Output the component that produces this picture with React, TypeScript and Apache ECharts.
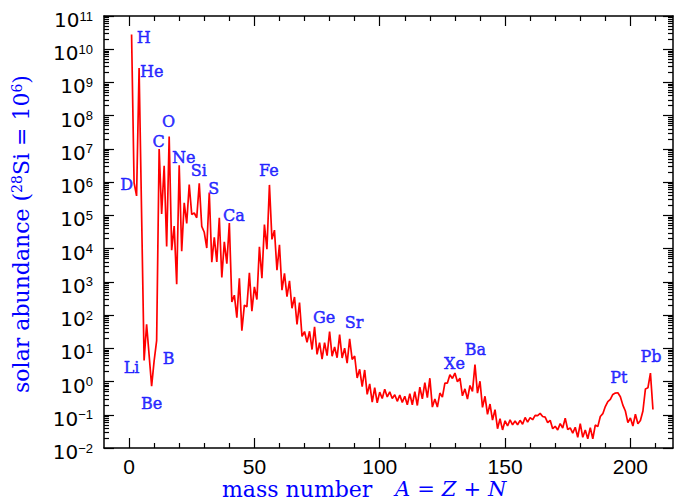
import React, { useEffect, useRef } from 'react';
import * as echarts from 'echarts';

// Solar abundance per mass number A = 1..209 (null where no stable isobar exists)
const abundance: (number | null)[] = [
  2.79e10, 9.5e5, 3.86e5, 2.72e9, null, 4.3, 52.8, null, 0.73, 4.2,
  17, 1.0e7, 1.1e5, 3.12e6, 1.15e4, 2.37e7, 9.0e3, 4.8e4, 843, 3.2e6,
  8.3e3, 2.4e5, 5.74e4, 8.5e5, 1.07e5, 1.18e5, 8.49e4, 9.22e5, 4.67e4, 3.1e4,
  1.04e4, 4.85e5, 3.9e3, 2.2e4, 3.97e3, 8.5e4, 1.35e3, 1.6e4, 3.5e3, 5.9e4,
  250, 396, 83, 1270, 34, 200, 176, 1880, 132, 710,
  293, 1.13e4, 1280, 5.3e4, 9550, 8.26e5, 1.9e4, 3.6e4, 2250, 1.3e4,
  560, 1800, 360, 1070, 161, 351, 52, 236, 22.7, 32,
  15.1, 32.6, 9.2, 44, 6.56, 14.8, 4.7, 14.8, 6.0, 31.9,
  5.8, 10.9, 5.2, 25.8, 5.12, 10.1, 3.6, 19.4, 4.64, 5.87,
  1.28, 2.34, 0.698, 2.23, 0.41, 0.85, 0.24, 0.65, 0.23, 0.48,
  0.31, 0.59, 0.344, 0.49, 0.31, 0.4, 0.254, 0.39, 0.236, 0.36,
  0.2, 0.43, 0.2, 0.5, 0.19, 0.68, 0.3, 0.93, 0.33, 1.26,
  0.17, 0.3, 0.17, 0.45, 0.34, 0.9, 0.9, 1.6, 1.24, 1.8,
  0.99, 1.26, 0.372, 0.6, 0.296, 0.76, 0.505, 3.22, 0.447, 1.02,
  0.167, 0.36, 0.103, 0.21, 0.069, 0.143, 0.038, 0.076, 0.035, 0.066,
  0.046, 0.07, 0.05, 0.065, 0.05, 0.068, 0.052, 0.083, 0.06, 0.082,
  0.071, 0.096, 0.094, 0.11, 0.089, 0.085, 0.058, 0.068, 0.038, 0.045,
  0.035, 0.054, 0.04, 0.079, 0.036, 0.04, 0.028, 0.042, 0.021, 0.054,
  0.021, 0.035, 0.019, 0.041, 0.019, 0.049, 0.044, 0.089, 0.108, 0.177,
  0.25, 0.29, 0.41, 0.45, 0.46, 0.35, 0.195, 0.13, 0.058, 0.08,
  0.046, 0.104, 0.054, 0.067, 0.13, 0.6, 0.65, 1.8, 0.144,
];
const massNumbers = abundance.map((_, i) => i + 1);

const xMajorTicks = [0, 50, 100, 150, 200];
const xMinorTicks = [10, 20, 30, 40, 60, 70, 80, 90, 110, 120, 130, 140, 160, 170, 180, 190, 210];
const yDecades = [-2, -1, 0, 1, 2, 3, 4, 5, 6, 7, 8, 9, 10];
const yMantissas = [2, 3, 4, 5, 6, 7, 8, 9];

const elementNames = ['H', 'He', 'D', 'Li', 'Be', 'B', 'C', 'O', 'Ne', 'Si', 'S', 'Ca', 'Fe', 'Ge', 'Sr', 'Xe', 'Ba', 'Pt', 'Pb'];
const elementLabelA = [5.8, 9.0, -1.0, 1.0, 9.0, 15.8, 11.8, 15.8, 21.8, 27.8, 33.8, 41.8, 55.8, 77.8, 89.8, 129.8, 138.2, 195.4, 208.2];
const elementLabelValue = [2.3e10, 2.2e9, 8.7e5, 2.6, 0.22, 5.1, 1.7e7, 6.5e7, 5.7e6, 2.2e6, 6.6e5, 1.0e5, 2.3e6, 87, 58, 3.4, 8.9, 1.3, 5.5];

const BLUE = '#0000ff';
const SANS = 'Liberation Sans';
const SANS_Y = 'DejaVu Sans';
const SERIF = 'DejaVu Serif';

export default function App() {
  const ref = useRef<HTMLDivElement>(null);
  useEffect(() => {
    if (!ref.current) return;
    const chart = echarts.init(ref.current, undefined, { renderer: 'svg' });
    const points: [number, number][] = [];
    abundance.forEach((v, i) => {
      if (v != null) points.push([massNumbers[i], v]);
    });
    const yMinor: number[] = [];
    yDecades.forEach((e) => yMantissas.forEach((m) => yMinor.push(e + Math.log10(m))));
    const lineStyle = { color: '#000', width: 1.5 };
    const tickStyle = { color: '#000', width: 1.2 };
    const xBase: any = { type: 'value', min: -10, max: 217, splitLine: { show: false } };
    const yBase: any = { type: 'value', min: -2, max: 11, splitLine: { show: false } };
    const supLabel = (v: number) => {
      const e = Math.round(v);
      return `{b|10}{s|${e < 0 ? '\u2212' + -e : e}}`;
    };
    const blueTok = { fill: BLUE, color: BLUE };
    chart.setOption({
      animation: false,
      grid: { left: 104, right: 5, top: 16, bottom: 54 },
      xAxis: [
        {
          ...xBase, position: 'bottom',
          axisLine: { show: true, onZero: false, lineStyle },
          axisTick: { show: true, inside: true, length: 10, customValues: xMajorTicks, lineStyle: tickStyle },
          axisLabel: { show: true, customValues: xMajorTicks, margin: 8, fontFamily: SANS, fontSize: 21, color: '#000' },
        },
        {
          ...xBase, position: 'bottom',
          axisLine: { show: false, onZero: false },
          axisTick: { show: true, inside: true, length: 5, customValues: xMinorTicks, lineStyle: tickStyle },
          axisLabel: { show: false },
        },
        {
          ...xBase, position: 'top',
          axisLine: { show: true, onZero: false, lineStyle },
          axisTick: { show: true, inside: true, length: 10, customValues: xMajorTicks, lineStyle: tickStyle },
          axisLabel: { show: false },
        },
        {
          ...xBase, position: 'top',
          axisLine: { show: false, onZero: false },
          axisTick: { show: true, inside: true, length: 5, customValues: xMinorTicks, lineStyle: tickStyle },
          axisLabel: { show: false },
        },
      ],
      yAxis: [
        { type: 'log', logBase: 10, min: 0.01, max: 1e11, position: 'left', show: false },
        {
          ...yBase, interval: 1, position: 'left',
          axisLine: { show: true, onZero: false, lineStyle },
          axisTick: { show: true, inside: true, length: 10, lineStyle: tickStyle },
          axisLabel: {
            show: true, margin: 11, formatter: supLabel,
            rich: {
              b: { fontFamily: SANS_Y, fontSize: 20, lineHeight: 20, verticalAlign: 'bottom', color: '#000' },
              s: { fontFamily: SANS, fontSize: 13, lineHeight: 28, verticalAlign: 'middle', color: '#000' },
            },
          },
        },
        {
          ...yBase, position: 'left',
          axisLine: { show: false, onZero: false },
          axisTick: { show: true, inside: true, length: 5, customValues: yMinor, lineStyle: tickStyle },
          axisLabel: { show: false },
        },
        {
          ...yBase, interval: 1, position: 'right',
          axisLine: { show: true, onZero: false, lineStyle },
          axisTick: { show: true, inside: true, length: 10, lineStyle: tickStyle },
          axisLabel: { show: false },
        },
        {
          ...yBase, position: 'right',
          axisLine: { show: false, onZero: false },
          axisTick: { show: true, inside: true, length: 5, customValues: yMinor, lineStyle: tickStyle },
          axisLabel: { show: false },
        },
      ],
      series: [
        {
          type: 'line', xAxisIndex: 0, yAxisIndex: 0, data: points,
          symbol: 'none', showSymbol: false, silent: true, z: 3,
          lineStyle: { color: '#ff0000', width: 1.7 },
        },
        {
          type: 'scatter', xAxisIndex: 0, yAxisIndex: 0, symbolSize: 1, silent: true, z: 4,
          itemStyle: { color: 'transparent' },
          data: elementNames.map((n, i) => ({ name: n, value: [elementLabelA[i], elementLabelValue[i]] })),
          label: {
            show: true, position: 'inside', formatter: '{b}', color: BLUE, fontFamily: SERIF, fontSize: 16,
            textBorderColor: BLUE, textBorderWidth: 0.5,
          },
        },
      ],
      graphic: [
        {
          type: 'text', x: 222, y: 489, silent: true,
          style: {
            text: '{n|mass number}{g| }{i|A}{o|=}{i|Z}{o|+}{i|N}',
            align: 'left', verticalAlign: 'middle', textAlign: 'left', textVerticalAlign: 'middle',
            fill: BLUE,
            rich: {
              n: { fontFamily: SERIF, fontSize: 22, ...blueTok },
              g: { fontFamily: SERIF, fontSize: 21, padding: [0, 8, 0, 8], ...blueTok },
              i: { fontFamily: SERIF, fontSize: 21, fontStyle: 'italic', ...blueTok },
              o: { fontFamily: SERIF, fontSize: 21, padding: [0, 7, 0, 7], ...blueTok },
            },
          },
        },
        {
          type: 'text', x: 21, y: 234, rotation: Math.PI / 2, silent: true,
          style: {
            text: '{n|solar abundance (}{s|28}{n|Si = 10}{s|6}{n|)}',
            align: 'center', verticalAlign: 'middle', textAlign: 'center', textVerticalAlign: 'middle',
            fill: BLUE,
            rich: {
              n: { fontFamily: SERIF, fontSize: 22, lineHeight: 22, verticalAlign: 'bottom', ...blueTok },
              s: { fontFamily: SERIF, fontSize: 14, lineHeight: 12, verticalAlign: 'top', ...blueTok },
            },
          },
        },
      ],
    });
    return () => chart.dispose();
  }, []);
  return <div ref={ref} style={{ position: 'absolute', left: 0, top: 0, width: 678, height: 502 }} />;
}
